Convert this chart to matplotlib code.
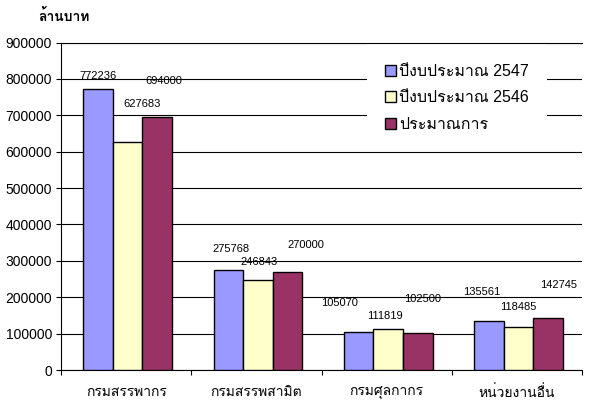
import numpy as np
import matplotlib
matplotlib.use("Agg")
import matplotlib.pyplot as plt
from matplotlib.patches import Rectangle

plt.rcParams["font.family"] = ["Liberation Sans", "Loma"]

categories = ["กรมสรรพากร", "กรมสรรพสามิต", "กรมศุลกากร", "หน่วยงานอื่น"]
series_names = ["ปีงบประมาณ 2547", "ปีงบประมาณ 2546", "ประมาณการ"]
budget_2547 = [772236, 275768, 105070, 135561]
budget_2546 = [627683, 246843, 111819, 118485]
estimate = [694000, 270000, 102500, 142745]
yticks = list(range(0, 900001, 100000))

colors = ["#9999FF", "#FFFFCC", "#993366"]

# label offsets (points) copied from the odd Excel placement
label_dx = [[0, 2, -14, -5], [10, 1, -2.5, 0], [5, 13, 3.5, 7.5]]
label_dy = [[9.5, 15, 21, 21], [27, 13, 9.5, 14], [26.5, 19, 24, 24]]

fig = plt.figure(figsize=(6, 4.01), dpi=100)
ax = fig.add_axes([0.1017, 0.0773, 0.8683, 0.8167])

x = np.arange(len(categories))
w = 0.227
for i, vals in enumerate([budget_2547, budget_2546, estimate]):
    pos = x + (i - 1) * w + 0.012
    ax.bar(pos, vals, w, color=colors[i], edgecolor="black", linewidth=1,
           label=series_names[i], zorder=3)
    for j, v in enumerate(vals):
        ax.annotate(str(v), (pos[j], v), xytext=(label_dx[i][j], label_dy[i][j]),
                    textcoords="offset points", ha="center", va="center",
                    fontsize=8, zorder=5)

ax.set_xlim(-0.5, len(categories) - 0.5)
ax.set_ylim(0, 900000)
ax.set_yticks(yticks)
ax.set_yticklabels([str(t) for t in yticks])
ax.set_xticks(x)
ax.set_xticklabels(categories)
ax.set_xticks(np.arange(len(categories) + 1) - 0.5, minor=True)
ax.tick_params(axis="x", which="major", length=0, pad=11, labelsize=10)
ax.tick_params(axis="x", which="minor", length=3.5, width=0.8, direction="out")
ax.tick_params(axis="y", length=3.5, width=0.8, pad=3, labelsize=10)

ax.yaxis.grid(True, color="black", linewidth=0.8, zorder=0)
ax.set_axisbelow(True)
for s in ["left", "bottom", "top"]:
    ax.spines[s].set_linewidth(0.8)
    ax.spines[s].set_color("black")
ax.spines["right"].set_visible(False)

# white legend area that hides the gridlines
ax.add_patch(Rectangle((0.587, 0.672), 0.346, 0.324, transform=ax.transAxes,
                       facecolor="white", edgecolor="none", zorder=2))

leg = ax.legend(loc="upper left", bbox_to_anchor=(0.622, 0.935), borderaxespad=0,
                fontsize=11.5, frameon=False, borderpad=0,
                handlelength=0.7, handleheight=0.7, handletextpad=0.2,
                labelspacing=0.72)
leg.set_zorder(6)

fig.text(0.063, 0.96, "ล้านบาท", fontsize=10, fontweight="bold", va="center", ha="left")

fig.savefig("out.png")
